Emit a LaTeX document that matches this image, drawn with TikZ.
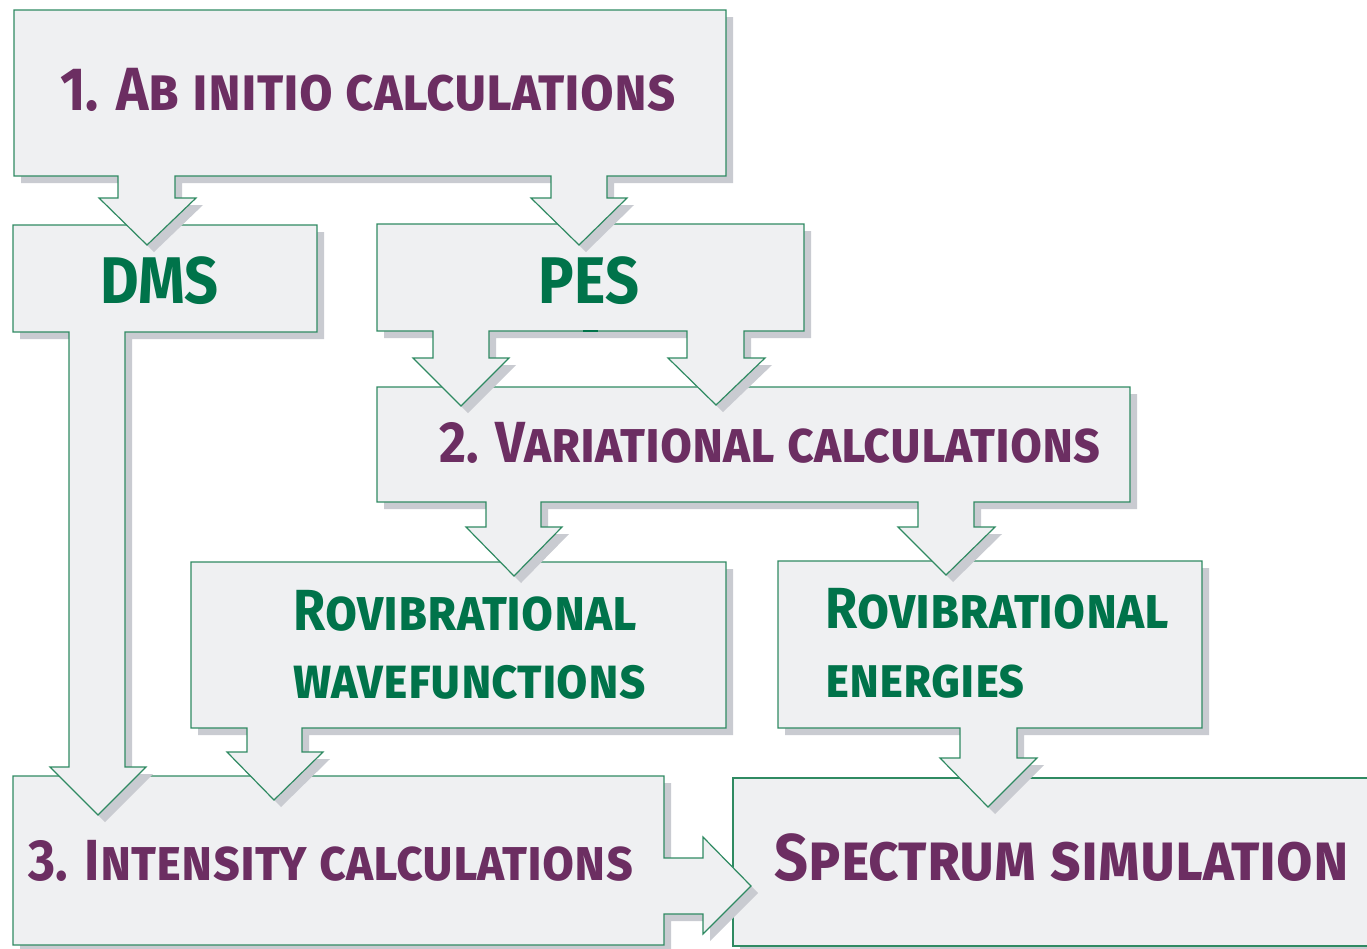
\documentclass[tikz,border=0pt]{standalone}
\usepackage{fontspec}
\setmainfont{Fira Sans}[FakeStretch=0.9]
\definecolor{boxfill}{HTML}{EFF0F2}
\definecolor{boxline}{HTML}{2F8A62}
\definecolor{shadowc}{HTML}{C9CBD1}
\definecolor{purp}{HTML}{6C2E62}
\definecolor{grn}{HTML}{00734A}
\newcommand\tf[1]{\fontsize{#1}{#1}\selectfont\bfseries\scshape}
\newcommand\ShA[1]{\path[#1] (14,10) -- (726,10) -- (726,176) -- (607,176) -- (607,198) -- (627,198) -- (579,245) -- (531,198) -- (551,198) -- (551,176) -- (175,176) -- (175,198) -- (196,198) -- (147,245) -- (99,198) -- (118,198) -- (118,176) -- (14,176) -- cycle;}
\newcommand\ShB[1]{\path[#1] (13,225) -- (317,225) -- (317,332) -- (125,332) -- (125,767) -- (146,767) -- (98,815) -- (50,767) -- (69,767) -- (69,332) -- (13,332) -- cycle;}
\newcommand\ShC[1]{\path[#1] (377,224) -- (804,224) -- (804,331) -- (744,331) -- (744,358) -- (765,358) -- (716,405) -- (668,358) -- (687,358) -- (687,331) -- (489,331) -- (489,358) -- (509,358) -- (461,406) -- (413,358) -- (433,358) -- (433,331) -- (377,331) -- cycle;}
\newcommand\ShD[1]{\path[#1] (377,387) -- (1130,387) -- (1130,502) -- (974,502) -- (974,527) -- (995,527) -- (946,575) -- (898,527) -- (918,527) -- (918,502) -- (541,502) -- (541,527) -- (562,527) -- (514,576) -- (466,527) -- (486,527) -- (486,502) -- (377,502) -- cycle;}
\newcommand\ShE[1]{\path[#1] (191,562) -- (726,562) -- (726,728) -- (302,728) -- (302,752) -- (323,752) -- (274,800) -- (227,752) -- (247,752) -- (247,728) -- (191,728) -- cycle;}
\newcommand\ShF[1]{\path[#1] (778,561) -- (1202,561) -- (1202,728) -- (1017,728) -- (1017,758) -- (1037,758) -- (988,807) -- (940,758) -- (960,758) -- (960,728) -- (778,728) -- cycle;}
\newcommand\ShG[1]{\path[#1] (13,776) -- (664,776) -- (664,858) -- (703,858) -- (703,837) -- (751,886) -- (703,934) -- (703,914) -- (664,914) -- (664,945) -- (13,945) -- cycle;}
\newcommand\ShH[1]{\path[#1] (733,778) -- (1400,778) -- (1400,946) -- (733,946) -- cycle;}
\begin{document}
\begin{tikzpicture}[x=1pt,y=-1pt,
  shp/.style={fill=boxfill, draw=boxline, line width=1.2pt, line join=miter},
  shd/.style={fill=shadowc, shift={(7,7)}},
  ttl/.style={text=purp, inner sep=0pt, anchor=base},
  lbl/.style={text=grn, inner sep=0pt, anchor=base}]
\useasboundingbox (0,0) rectangle (1367,948);
\clip (0,0) rectangle (1367,948);
\ShH{shd}\ShH{shp}
\ShG{shd}\ShG{shp}
\ShF{shd}\ShF{shp}
\ShE{shd}\ShE{shp}
\ShD{shd}\ShD{shp}
\ShC{shd}\ShC{shp}
\draw[grn, line width=2.5pt] (583,331) -- (598,331);
\ShB{shd}\ShB{shp}
\ShA{shd}\ShA{shp}
\node[ttl, font={\tf{61}}] (t1) at (368,110) {1. Ab initio calculations};
\node[lbl, font={\tf{66}}] (dms) at (159,303) {DMS};
\node[lbl, font={\tf{66}}] (pes) at (589,303) {PES};
\node[ttl, font={\tf{58}}] (t2) at (770,462) {2. Variational calculations};
\node[lbl, font={\tf{58}}, anchor=base west] (wf1) at (293,630) {Rovibrational};
\node[lbl, font={\tf{57}}, anchor=base west] (wf2) at (293,698) {wavefunctions};
\node[lbl, font={\tf{58}}, anchor=base west] (en1) at (825,628) {Rovibrational};
\node[lbl, font={\tf{56}}, anchor=base west] (en2) at (825,697) {energies};
\node[ttl, font={\tf{58}}] (t3) at (331,880) {3. Intensity calculations};
\node[ttl, font={\tf{66}}] (sp) at (1062,880) {Spectrum simulation};
\end{tikzpicture}
\end{document}
